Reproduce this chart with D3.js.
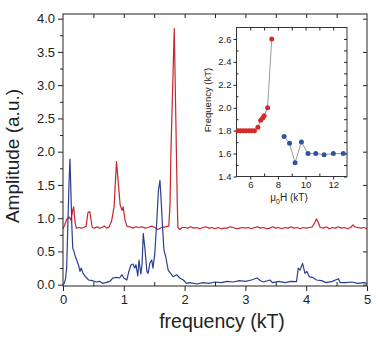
<!DOCTYPE html>
<html>
<head>
<meta charset="utf-8">
<script src="https://cdn.jsdelivr.net/npm/d3@7"></script>
<style>
  body { margin: 0; background: #fff; }
  text { font-family: "Liberation Sans", Arial, sans-serif; fill: #222; }
</style>
</head>
<body>
<div id="chart"></div>
<script>
// main spectra: frequency (kT) vs amplitude (a.u.)
var redFreq = [0.00, 0.03, 0.06, 0.10, 0.13, 0.16, 0.175, 0.20, 0.22, 0.26, 0.30, 0.34, 0.38, 0.41, 0.44, 0.46, 0.48,
  0.52, 0.56, 0.60, 0.64, 0.68, 0.72, 0.76, 0.80, 0.84, 0.88, 0.91, 0.94, 0.97, 0.99, 1.02, 1.05, 1.10, 1.15, 1.20,
  1.25, 1.30, 1.35, 1.40, 1.46, 1.51, 1.56, 1.62, 1.68, 1.74, 1.76, 1.775, 1.83, 1.865, 1.88, 1.89, 1.92, 1.96, 2.00,
  2.05, 2.10, 2.15, 2.20, 2.25, 2.30, 2.35, 2.40, 2.45, 2.50, 2.55, 2.60, 2.65, 2.70, 2.75, 2.80, 2.85, 2.90, 2.95,
  3.00, 3.05, 3.10, 3.15, 3.20, 3.25, 3.30, 3.35, 3.40, 3.45, 3.50, 3.55, 3.60, 3.65, 3.70, 3.75, 3.80, 3.85, 3.90,
  3.95, 4.00, 4.05, 4.10, 4.14, 4.17, 4.20, 4.23, 4.28, 4.33, 4.38, 4.43, 4.48, 4.53, 4.58, 4.63, 4.68, 4.73, 4.77,
  4.80, 4.85, 4.90, 4.95, 5.00];
var redAmp = [0.84, 0.90, 0.98, 1.02, 0.97, 1.12, 1.17, 0.93, 0.85, 0.86, 0.85, 0.86, 0.88, 1.08, 1.10, 0.98, 0.86,
  0.85, 0.87, 0.85, 0.86, 0.88, 0.85, 0.87, 0.96, 1.17, 1.85, 1.52, 1.20, 1.12, 1.17, 0.97, 0.88, 0.87, 0.85, 0.87,
  0.86, 0.87, 0.85, 0.86, 0.88, 0.86, 0.83, 0.86, 0.87, 0.88, 1.20, 2.00, 3.85, 2.00, 1.20, 0.86, 0.83, 0.86, 0.86,
  0.85, 0.87, 0.85, 0.86, 0.84, 0.86, 0.87, 0.85, 0.86, 0.84, 0.86, 0.84, 0.85, 0.85, 0.87, 0.86, 0.84, 0.85, 0.86,
  0.85, 0.86, 0.84, 0.86, 0.87, 0.85, 0.86, 0.84, 0.85, 0.87, 0.85, 0.86, 0.84, 0.86, 0.85, 0.87, 0.85, 0.86, 0.84,
  0.86, 0.85, 0.86, 0.87, 0.93, 0.99, 0.93, 0.86, 0.85, 0.87, 0.84, 0.86, 0.85, 0.87, 0.85, 0.86, 0.84, 0.86, 0.90,
  0.87, 0.86, 0.85, 0.86, 0.84];

var blueFreq = [0.00, 0.02, 0.04, 0.06, 0.08, 0.10, 0.115, 0.13, 0.145, 0.16, 0.18, 0.20, 0.23, 0.26, 0.28, 0.30,
  0.33, 0.37, 0.42, 0.48, 0.55, 0.60, 0.65, 0.70, 0.77, 0.82, 0.88, 0.93, 0.97, 1.00, 1.05, 1.08, 1.12, 1.15, 1.18,
  1.20, 1.23, 1.25, 1.28, 1.30, 1.32, 1.35, 1.38, 1.40, 1.43, 1.46, 1.48, 1.51, 1.54, 1.57, 1.595, 1.62, 1.64, 1.66,
  1.69, 1.73, 1.77, 1.81, 1.87, 1.92, 1.98, 2.03, 2.09, 2.20, 2.30, 2.40, 2.50, 2.60, 2.70, 2.80, 2.90, 3.00, 3.10,
  3.19, 3.25, 3.30, 3.40, 3.45, 3.55, 3.65, 3.75, 3.84, 3.87, 3.90, 3.94, 3.98, 4.01, 4.05, 4.10, 4.17, 4.25, 4.33,
  4.43, 4.53, 4.56, 4.65, 4.75, 4.85, 4.95, 5.00];
var blueAmp = [0.00, 0.02, 0.08, 0.25, 0.90, 1.55, 1.89, 1.40, 0.90, 0.55, 0.50, 0.43, 0.36, 0.28, 0.20, 0.25,
  0.17, 0.12, 0.07, 0.06, 0.04, 0.05, 0.02, 0.03, 0.05, 0.10, 0.11, 0.10, 0.15, 0.10, 0.07, 0.19, 0.30, 0.31, 0.25,
  0.30, 0.13, 0.37, 0.16, 0.30, 0.77, 0.52, 0.20, 0.17, 0.33, 0.37, 0.25, 0.47, 0.92, 1.42, 1.57, 1.17, 0.82, 0.52,
  0.42, 0.22, 0.17, 0.12, 0.15, 0.10, 0.07, 0.02, 0.03, 0.01, 0.03, 0.02, 0.04, 0.03, 0.05, 0.04, 0.06, 0.05, 0.07,
  0.10, 0.06, 0.04, 0.07, 0.03, 0.05, 0.03, 0.05, 0.045, 0.25, 0.22, 0.32, 0.17, 0.20, 0.12, 0.11, 0.07, 0.06, 0.03,
  0.05, 0.09, 0.03, 0.03, 0.04, 0.02, 0.03, 0.02];

// inset: field (kT) vs frequency (kT)
var insetRedField = [5.1, 5.3, 5.5, 5.7, 5.9, 6.1, 6.3, 6.55, 6.75, 6.9, 7.0, 7.25, 7.55];
var insetRedFreq = [1.80, 1.80, 1.80, 1.80, 1.80, 1.80, 1.80, 1.83, 1.89, 1.91, 1.93, 2.00, 2.60];
var insetBlueField = [8.45, 8.84, 9.24, 9.7, 10.18, 10.74, 11.34, 12.01, 12.73];
var insetBlueFreq = [1.75, 1.69, 1.52, 1.70, 1.60, 1.60, 1.59, 1.60, 1.60];

var xTicks = [0, 1, 2, 3, 4, 5];
var yTicks = [0, 0.5, 1, 1.5, 2, 2.5, 3, 3.5, 4];
var insetXTicks = [6, 8, 10, 12];
var insetYTicks = [1.4, 1.6, 1.8, 2.0, 2.2, 2.4, 2.6];

var redColor = "#c9252c";
var blueColor = "#2c3f8f";

var svgWidth = 382;
var svgHeight = 344;

var svg = d3.select("#chart")
  .append("svg")
  .attr("width", svgWidth)
  .attr("height", svgHeight);

// main plot area
var plot = { left: 63, right: 367, top: 14, bottom: 286 };

var x = d3.scaleLinear().domain([0, 5]).range([plot.left, plot.right]);
var y = d3.scaleLinear().domain([-0.02, 4.07]).range([plot.bottom, plot.top]);

var toPts = function(xs, ys) { return xs.map(function(v, i) { return [v, ys[i]]; }); };
var noDomain = function(g) { g.select(".domain").remove(); };

var line = d3.line()
  .x(function(d) { return x(d[0]); })
  .y(function(d) { return y(d[1]); });

svg.append("path")
  .attr("d", line(toPts(redFreq, redAmp)))
  .attr("fill", "none")
  .attr("stroke", redColor)
  .attr("stroke-width", 1.2)
  .attr("stroke-linejoin", "round");

svg.append("path")
  .attr("d", line(toPts(blueFreq, blueAmp)))
  .attr("fill", "none")
  .attr("stroke", blueColor)
  .attr("stroke-width", 1.2)
  .attr("stroke-linejoin", "round");

// axes
var minorY = [0.25, 0.75, 1.25, 1.75, 2.25, 2.75, 3.25, 3.75];
var minorX = [0.5, 1.5, 2.5, 3.5, 4.5];

var mainAxes = svg.append("g").attr("class", "main-axes");

mainAxes.append("g")
  .attr("transform", "translate(0," + plot.bottom + ")")
  .call(d3.axisBottom(x).tickValues(xTicks).tickFormat(d3.format("d")).tickSize(5).tickPadding(4))
  .call(noDomain);
mainAxes.append("g")
  .attr("transform", "translate(0," + plot.bottom + ")")
  .call(d3.axisTop(x).tickValues(minorX).tickFormat("").tickSize(4))
  .call(noDomain);

mainAxes.append("g")
  .attr("transform", "translate(" + plot.left + ",0)")
  .call(d3.axisLeft(y).tickValues(yTicks).tickFormat(d3.format(".1f")).tickSize(5).tickPadding(3))
  .call(noDomain);
mainAxes.append("g")
  .attr("transform", "translate(" + plot.left + ",0)")
  .call(d3.axisLeft(y).tickValues(minorY).tickFormat("").tickSize(3))
  .call(noDomain);

mainAxes.append("g")
  .attr("transform", "translate(0," + plot.top + ")")
  .call(d3.axisBottom(x).tickValues(minorX.concat([1, 2, 3, 4])).tickFormat("").tickSize(4))
  .call(noDomain);
mainAxes.append("g")
  .attr("transform", "translate(" + plot.right + ",0)")
  .call(d3.axisLeft(y).tickValues(yTicks).tickFormat("").tickSize(4))
  .call(noDomain);

mainAxes.selectAll(".tick text").style("font-size", "13px").attr("fill", "#222");
mainAxes.selectAll(".tick line").attr("stroke", "#222");

svg.append("rect")
  .attr("x", plot.left).attr("y", plot.top)
  .attr("width", plot.right - plot.left).attr("height", plot.bottom - plot.top)
  .attr("fill", "none").attr("stroke", "#222").attr("stroke-width", 1);

// axis titles
svg.append("text")
  .attr("transform", "translate(19,156) rotate(-90)")
  .attr("text-anchor", "middle")
  .style("font-size", "19px")
  .text("Amplitude (a.u.)");

svg.append("text")
  .attr("x", 222).attr("y", 328)
  .attr("text-anchor", "middle")
  .style("font-size", "19.5px")
  .text("frequency (kT)");

// inset
var box = { left: 236.5, right: 347, top: 27.5, bottom: 176.5 };
var ix = d3.scaleLinear().domain([5, 13]).range([box.left, box.right]);
var iy = d3.scaleLinear().domain([1.4, 2.7]).range([box.bottom, box.top]);

var inset = svg.append("g").attr("class", "inset");

inset.append("rect")
  .attr("x", box.left).attr("y", box.top)
  .attr("width", box.right - box.left).attr("height", box.bottom - box.top)
  .attr("fill", "#fff");

var insetMinorY = [1.5, 1.7, 1.9, 2.1, 2.3, 2.5];

inset.append("g")
  .attr("transform", "translate(0," + box.bottom + ")")
  .call(d3.axisBottom(ix).tickValues(insetXTicks).tickFormat(d3.format("d")).tickSize(3).tickPadding(2))
  .call(noDomain);
inset.append("g")
  .attr("transform", "translate(0," + box.bottom + ")")
  .call(d3.axisTop(ix).tickValues([7, 9, 11]).tickFormat("").tickSize(3))
  .call(noDomain);
inset.append("g")
  .attr("transform", "translate(" + box.left + ",0)")
  .call(d3.axisLeft(iy).tickValues(insetYTicks).tickFormat(d3.format(".1f")).tickSize(3).tickPadding(2))
  .call(noDomain);
inset.append("g")
  .attr("transform", "translate(" + box.left + ",0)")
  .call(d3.axisRight(iy).tickValues(insetMinorY).tickFormat("").tickSize(2))
  .call(noDomain);
inset.append("g")
  .attr("transform", "translate(0," + box.top + ")")
  .call(d3.axisBottom(ix).tickValues([6, 7, 8, 9, 10, 11, 12]).tickFormat("").tickSize(3))
  .call(noDomain);
inset.append("g")
  .attr("transform", "translate(" + box.right + ",0)")
  .call(d3.axisLeft(iy).tickValues(insetYTicks.concat(insetMinorY)).tickFormat("").tickSize(3))
  .call(noDomain);

inset.selectAll(".tick text").style("font-size", "9.5px").attr("fill", "#222");
inset.selectAll(".tick line").attr("stroke", "#222");

inset.append("rect")
  .attr("x", box.left).attr("y", box.top)
  .attr("width", box.right - box.left).attr("height", box.bottom - box.top)
  .attr("fill", "none").attr("stroke", "#222").attr("stroke-width", 0.9);

var iline = d3.line()
  .x(function(d) { return ix(d[0]); })
  .y(function(d) { return iy(d[1]); });

var redPts = toPts(insetRedField, insetRedFreq);
var bluePts = toPts(insetBlueField, insetBlueFreq);

inset.append("path").attr("d", iline(redPts))
  .attr("fill", "none").attr("stroke", "#555").attr("stroke-width", 0.6);
inset.append("path").attr("d", iline(bluePts))
  .attr("fill", "none").attr("stroke", "#555").attr("stroke-width", 0.6);

inset.selectAll(".rdot").data(redPts).enter()
  .append("circle")
  .attr("cx", function(d) { return ix(d[0]); })
  .attr("cy", function(d) { return iy(d[1]); })
  .attr("r", 2.5)
  .attr("fill", "#d42a2a");

inset.selectAll(".bdot").data(bluePts).enter()
  .append("circle")
  .attr("cx", function(d) { return ix(d[0]); })
  .attr("cy", function(d) { return iy(d[1]); })
  .attr("r", 2.5)
  .attr("fill", "#2f55a2");

inset.append("text")
  .attr("transform", "translate(211,100) rotate(-90)")
  .attr("text-anchor", "middle")
  .style("font-size", "9.5px")
  .text("Frequency (kT)");

var lab = inset.append("text")
  .attr("x", 289).attr("y", 201)
  .attr("text-anchor", "middle")
  .style("font-size", "10px");
lab.append("tspan").text("μ");
lab.append("tspan").attr("dy", 2.5).style("font-size", "7px").text("0");
lab.append("tspan").attr("dy", -2.5).text("H (kT)");
</script>
</body>
</html>
